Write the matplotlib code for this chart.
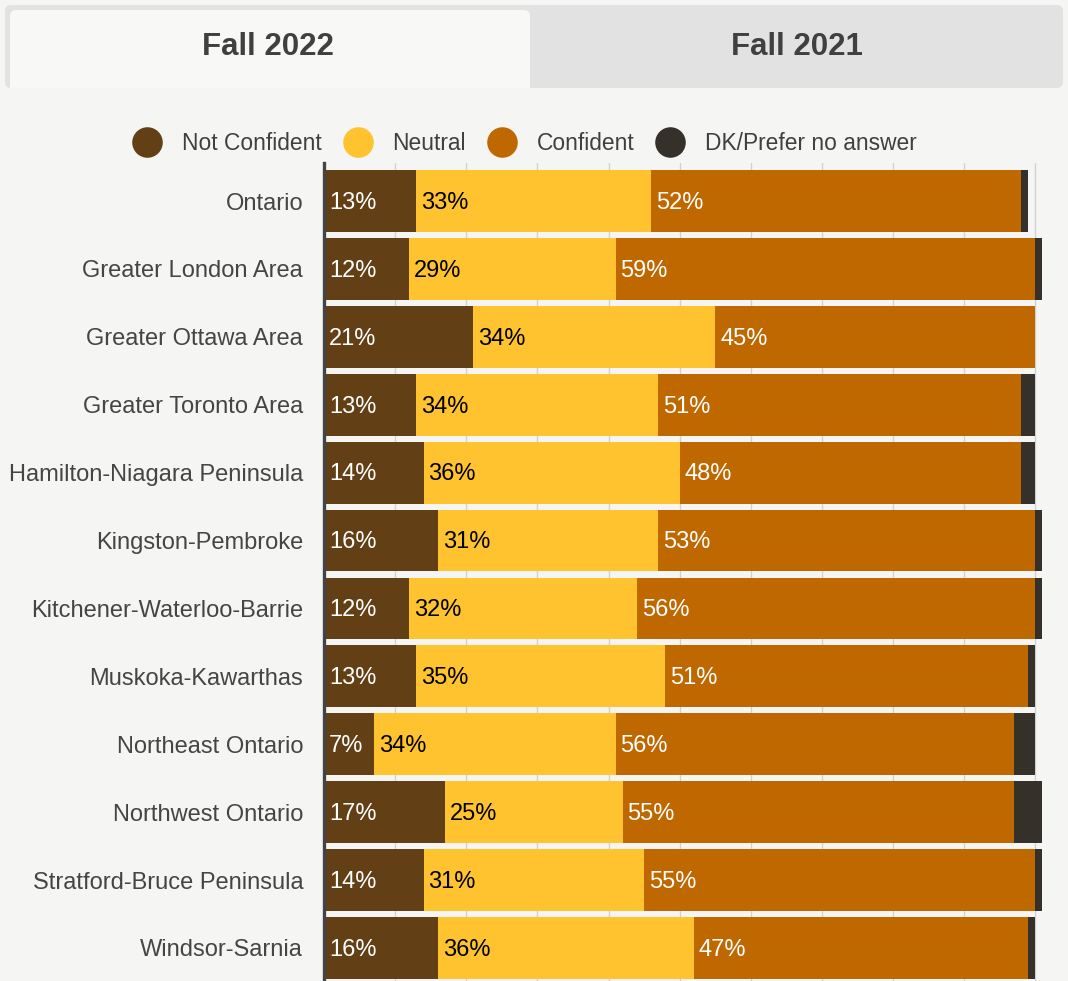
import matplotlib.pyplot as plt
import numpy as np
from matplotlib.lines import Line2D
from matplotlib.patches import Rectangle, FancyBboxPatch

plt.rcParams['font.family'] = ['Liberation Sans', 'DejaVu Sans']

# data
regions = ['Ontario', 'Greater London Area', 'Greater Ottawa Area', 'Greater Toronto Area',
           'Hamilton-Niagara Peninsula', 'Kingston-Pembroke', 'Kitchener-Waterloo-Barrie',
           'Muskoka-Kawarthas', 'Northeast Ontario', 'Northwest Ontario',
           'Stratford-Bruce Peninsula', 'Windsor-Sarnia']
not_confident = [13, 12, 21, 13, 14, 16, 12, 13, 7, 17, 14, 16]
neutral = [33, 29, 34, 34, 36, 31, 32, 35, 34, 25, 31, 36]
confident = [52, 59, 45, 51, 48, 53, 56, 51, 56, 55, 55, 47]
dk = [1, 1, 0, 2, 2, 1, 1, 1, 3, 4, 1, 1]

series = ['Not Confident', 'Neutral', 'Confident', 'DK/Prefer no answer']
colors = ['#623f14', '#fec32f', '#c06800', '#35302a']
text_colors = ['white', 'black', 'white', None]
tabs = ['Fall 2022', 'Fall 2021']

bg = '#f5f5f4'
fig = plt.figure(figsize=(10.68, 9.81), dpi=100, facecolor=bg)
W, H = 1068, 981

# tab bar
fig.patches.append(FancyBboxPatch((5 / W, 1 - 88 / H), 1058 / W, 83 / H, transform=fig.transFigure,
                                  boxstyle='round,pad=0,rounding_size=0.006',
                                  facecolor='#e2e2e2', edgecolor='none', zorder=0))
fig.patches.append(FancyBboxPatch((10 / W, 1 - 88 / H), 520 / W, 78 / H, transform=fig.transFigure,
                                  boxstyle='round,pad=0,rounding_size=0.006',
                                  facecolor='#f8f8f7', edgecolor='none', zorder=1))
fig.patches.append(Rectangle((10 / W, 1 - 88 / H), 520 / W, 20 / H, transform=fig.transFigure,
                             facecolor='#f8f8f7', edgecolor='none', zorder=1))
fig.text(268 / W, 1 - 47 / H, tabs[0], ha='center', va='center', fontsize=22.5,
         fontweight='bold', color='#404040')
fig.text(797 / W, 1 - 47 / H, tabs[1], ha='center', va='center', fontsize=22.5,
         fontweight='bold', color='#404040')

ax = fig.add_axes([324 / W, 0, (W - 324) / W, 1 - 163 / H])
ax.set_facecolor('none')

y = np.arange(len(regions))
vals = [not_confident, neutral, confident, dk]
left = np.zeros(len(regions))
for k, v in enumerate(vals):
    v = np.array(v, dtype=float)
    ax.barh(y, v, left=left, height=0.91, color=colors[k], zorder=3, label=series[k])
    if text_colors[k]:
        for i in range(len(regions)):
            ax.annotate(f'{int(v[i])}%', (left[i], y[i]), xytext=(3.5, -1.3),
                        textcoords='offset points', ha='left', va='center',
                        fontsize=17, color=text_colors[k], zorder=4)
    left += v

ax.set_xlim(0, 104.6)
ax.set_ylim(len(regions) - 0.514, -0.56)
ax.set_xticks(np.arange(0, 101, 10))
ax.set_yticks(y)
ax.set_yticklabels(regions, fontsize=17, color='#454545')
ax.tick_params(axis='y', length=0, pad=15)
ax.tick_params(axis='x', length=0, labelbottom=False)
ax.grid(axis='x', color='#d2d2d2', linewidth=1, zorder=0)
for s in ['top', 'right', 'bottom']:
    ax.spines[s].set_visible(False)
ax.spines['left'].set_color('#444444')
ax.spines['left'].set_linewidth(2.4)
ax.spines['left'].set_zorder(5)

handles = [Line2D([], [], marker='o', linestyle='none', markersize=22,
                  markerfacecolor=c, markeredgecolor='none') for c in colors]
fig.legend(handles, series, loc='center', bbox_to_anchor=(524 / W, 1 - 143 / H),
           ncol=4, frameon=False, fontsize=16.4, handletextpad=0.83, columnspacing=0.88,
           handlelength=1.4, labelcolor='#404040')

fig.savefig('out.png', dpi=100, facecolor=bg)
